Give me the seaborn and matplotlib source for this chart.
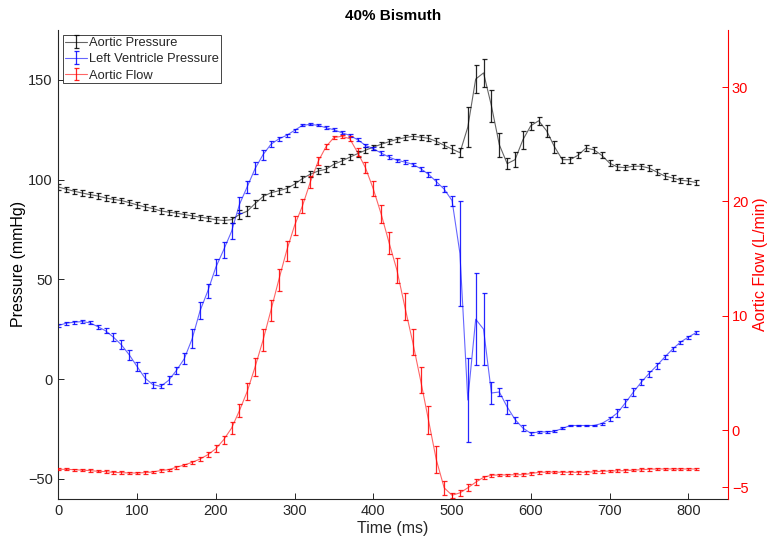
import numpy as np
import pandas as pd
import matplotlib
matplotlib.use("Agg")
import matplotlib.pyplot as plt
import seaborn as sns
from matplotlib.legend_handler import HandlerTuple

time_ms = list(range(0, 820, 10))

aortic_pressure = [96.3, 95.2, 94.2, 93.3, 92.5, 91.8, 90.8, 90.1, 89.5, 88.5,
                   87.3, 86.3, 85.5, 84.3, 83.7, 83.2, 82.5, 81.8, 81.2, 80.6,
                   79.9, 79.5, 79.9, 82.5, 84.2, 88.0, 91.5, 93.4, 94.4, 95.5,
                   97.7, 100.5, 102.7, 104.3, 105.2, 107.7, 109.3, 111.2, 113.0, 114.7,
                   116.3, 117.7, 119.0, 120.2, 121.0, 121.7, 121.3, 120.7, 119.2, 117.2,
                   115.3, 113.5, 126.3, 150.4, 153.5, 137.0, 117.5, 108.0, 110.0, 120.0,
                   127.0, 129.5, 124.5, 116.5, 110.0, 110.0, 112.2, 115.8, 115.0, 112.2,
                   108.3, 106.3, 106.0, 106.7, 106.7, 105.8, 103.8, 101.8, 100.8, 99.7,
                   99.3, 98.5]
aortic_err = [1.3, 1.3, 1.3, 1.3, 1.3, 1.3, 1.3, 1.3, 1.3, 1.3,
              1.3, 1.3, 1.3, 1.3, 1.3, 1.3, 1.3, 1.3, 1.3, 1.3,
              1.5, 1.5, 1.5, 2.5, 2.5, 2.0, 1.5, 1.5, 1.5, 1.5,
              1.5, 1.5, 1.5, 1.5, 1.5, 1.5, 1.5, 1.5, 1.5, 1.5,
              1.3, 1.3, 1.3, 1.3, 1.3, 1.3, 1.3, 1.5, 1.5, 1.5,
              1.8, 2.2, 10.0, 7.0, 7.0, 8.0, 6.0, 2.7, 3.7, 4.5,
              2.0, 2.0, 3.0, 3.0, 1.5, 1.5, 1.5, 1.5, 1.5, 1.5,
              1.5, 1.3, 1.3, 1.3, 1.3, 1.3, 1.3, 1.3, 1.3, 1.3,
              1.3, 1.3]

lv_pressure = [26.8, 28.0, 28.5, 28.8, 28.2, 26.3, 24.2, 21.0, 17.2, 12.2,
               6.3, 0.5, -2.8, -3.7, -0.7, 4.3, 10.2, 20.2, 34.2, 44.3,
               56.0, 64.8, 74.0, 87.5, 96.5, 105.6, 112.5, 117.7, 120.4, 122.2,
               124.7, 127.2, 127.7, 127.2, 126.0, 125.0, 123.5, 122.2, 120.0, 117.2,
               115.5, 113.3, 111.3, 109.7, 108.8, 107.7, 105.5, 102.7, 99.0, 95.2,
               89.5, 63.0, -10.5, 30.0, 25.0, -7.0, -6.5, -14.0, -20.3, -24.6,
               -27.2, -26.5, -26.5, -26.2, -24.8, -23.3, -23.3, -23.3, -23.3, -22.3,
               -20.0, -17.0, -12.0, -6.7, -1.7, 2.7, 6.7, 11.0, 15.0, 18.5,
               21.0, 23.3]
lv_err = [0.7, 0.7, 0.7, 0.7, 0.7, 1.0, 1.3, 2.0, 2.3, 2.5,
          2.3, 2.3, 1.5, 1.0, 2.0, 1.9, 2.7, 4.8, 4.3, 3.5,
          4.0, 4.0, 4.0, 4.0, 3.0, 3.0, 2.5, 1.5, 1.0, 0.8,
          0.8, 0.5, 0.5, 0.5, 0.8, 0.8, 0.8, 0.8, 0.8, 0.8,
          0.8, 0.8, 0.8, 0.8, 0.8, 0.8, 1.0, 1.2, 1.5, 1.5,
          2.5, 26.5, 21.0, 23.0, 18.0, 5.3, 2.0, 3.5, 1.5, 1.5,
          0.8, 0.5, 0.5, 0.5, 0.5, 0.5, 0.5, 0.5, 0.5, 0.5,
          1.0, 2.0, 2.0, 2.0, 1.5, 1.5, 1.5, 1.2, 1.0, 0.8,
          0.8, 0.6]

aortic_flow = [-3.43, -3.43, -3.46, -3.50, -3.54, -3.60, -3.63, -3.70, -3.72, -3.75,
               -3.75, -3.72, -3.66, -3.54, -3.46, -3.25, -3.05, -2.82, -2.53, -2.15,
               -1.63, -0.84, 0.17, 1.70, 3.40, 5.55, 7.87, 10.48, 13.15, 15.70,
               17.90, 19.60, 21.70, 23.50, 24.80, 25.60, 25.70, 25.50, 24.30, 22.96,
               21.10, 18.90, 16.40, 14.00, 10.80, 7.72, 4.38, 0.90, -2.59, -5.05,
               -5.70, -5.49, -5.05, -4.56, -4.13, -3.95, -3.92, -3.92, -3.90, -3.90,
               -3.80, -3.70, -3.67, -3.67, -3.69, -3.69, -3.69, -3.69, -3.65, -3.60,
               -3.58, -3.56, -3.54, -3.50, -3.47, -3.42, -3.40, -3.40, -3.40, -3.40,
               -3.40, -3.40]
flow_err = [0.1, 0.1, 0.1, 0.1, 0.1, 0.1, 0.1, 0.1, 0.1, 0.1,
            0.1, 0.1, 0.1, 0.1, 0.1, 0.12, 0.12, 0.12, 0.15, 0.2,
            0.3, 0.35, 0.5, 0.55, 0.75, 0.8, 0.94, 0.9, 0.95, 0.87,
            0.8, 0.6, 0.5, 0.35, 0.25, 0.15, 0.15, 0.2, 0.35, 0.5,
            0.65, 0.8, 0.95, 1.1, 1.16, 1.16, 1.13, 1.23, 1.16, 0.6,
            0.2, 0.25, 0.3, 0.25, 0.15, 0.12, 0.12, 0.12, 0.12, 0.12,
            0.12, 0.12, 0.12, 0.12, 0.12, 0.12, 0.12, 0.12, 0.12, 0.12,
            0.12, 0.12, 0.12, 0.12, 0.12, 0.12, 0.12, 0.12, 0.12, 0.12,
            0.12, 0.12]

series_names = ["Aortic Pressure", "Left Ventricle Pressure", "Aortic Flow"]
x_ticks = [0, 100, 200, 300, 400, 500, 600, 700, 800]
left_ticks = [-50, 0, 50, 100, 150]
right_ticks = [-5, 0, 10, 20, 30]

sns.set_theme(style="white")
plt.rcParams['font.family'] = ['Liberation Sans', 'DejaVu Sans']

df_ap = pd.DataFrame({"t": time_ms, "v": aortic_pressure, "e": aortic_err})
df_lv = pd.DataFrame({"t": time_ms, "v": lv_pressure, "e": lv_err})
df_fl = pd.DataFrame({"t": time_ms, "v": aortic_flow, "e": flow_err})

fig = plt.figure(figsize=(7.68, 5.41), dpi=100)
ax = fig.add_axes([0.0759, 0.0782, 0.8716, 0.8663])
ax2 = ax.twinx()

axis_col = "#262626"
black = "#000000"
blue = "#0000ff"
red = "#ff0000"

def draw(axis, df, col):
    sns.lineplot(data=df, x="t", y="v", ax=axis, color=col, lw=0.8, alpha=0.6,
                 legend=False, errorbar=None)
    line = axis.lines[-1]
    eb = axis.errorbar(df["t"], df["v"], yerr=df["e"], fmt="none", ecolor=col,
                       elinewidth=0.9, capsize=1.8, capthick=0.9, alpha=0.85)
    return line, eb

h_ap = draw(ax, df_ap, black)
h_lv = draw(ax, df_lv, blue)
h_fl = draw(ax2, df_fl, red)

ax.set_xlim(0, 850)
ax.set_ylim(-60, 175)
ax2.set_ylim(-6, 35)
ax.set_xticks(x_ticks)
ax.set_yticks(left_ticks)
ax2.set_yticks(right_ticks)

for a in (ax, ax2):
    a.spines["top"].set_visible(False)
    a.grid(False)
ax.spines["left"].set_color(axis_col)
ax.spines["bottom"].set_color(axis_col)
ax.spines["right"].set_visible(False)
ax2.spines["left"].set_visible(False)
ax2.spines["bottom"].set_visible(False)
ax2.spines["right"].set_color(red)
for s in ("left", "bottom"):
    ax.spines[s].set_linewidth(0.8)
ax2.spines["right"].set_linewidth(0.8)

ax.tick_params(axis="both", direction="in", length=4, width=0.7, color=axis_col,
               labelsize=10.5, labelcolor=axis_col, left=True, bottom=True, pad=4)
ax2.tick_params(axis="y", direction="in", length=4, width=0.7, color=red,
                labelsize=10.5, labelcolor=red, right=True, pad=3)

ax.set_xlabel("Time (ms)", fontsize=11.5, color=axis_col, labelpad=2)
ax.set_ylabel("Pressure (mmHg)", fontsize=11.5, color=black, labelpad=1.5)
ax2.set_ylabel("Aortic Flow (L/min)", fontsize=11.5, color=red, labelpad=3)
ax.set_title("40% Bismuth", fontsize=11, fontweight="bold", color=black, pad=7)

leg = ax2.legend([h_ap, h_lv, h_fl], series_names,
                 handler_map={tuple: HandlerTuple(ndivide=1, pad=0)},
                 loc="upper left", fontsize=9.3, frameon=True, fancybox=False,
                 borderpad=0.15, labelspacing=0.32, handlelength=1.7,
                 handletextpad=0.15, borderaxespad=0.4)
leg.get_frame().set_edgecolor(axis_col)
leg.get_frame().set_linewidth(0.6)
leg.get_frame().set_facecolor("white")
leg.get_frame().set_alpha(1)

fig.savefig("out.png", dpi=100)
